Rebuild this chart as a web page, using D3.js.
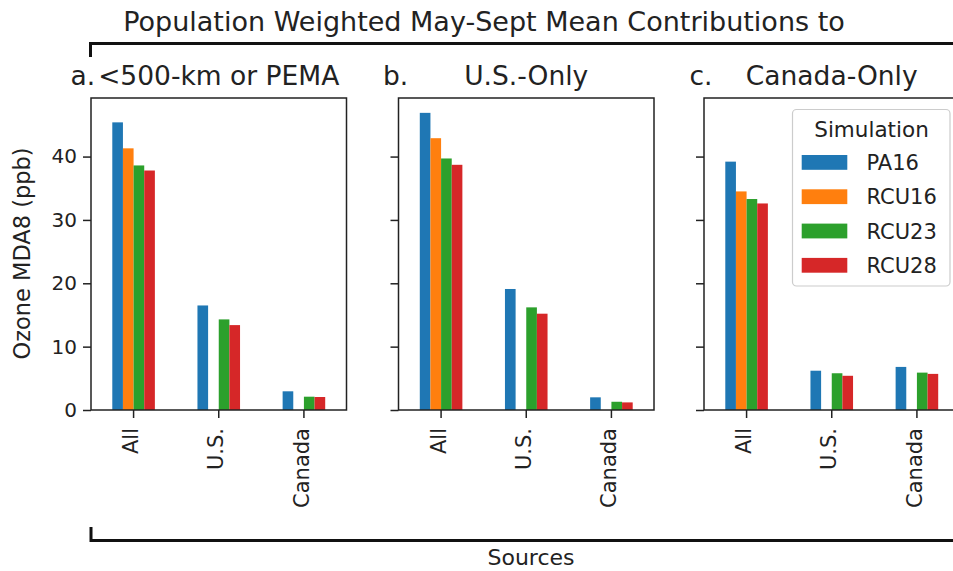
<!DOCTYPE html>
<html><head><meta charset="utf-8">
<script src="https://cdn.jsdelivr.net/npm/d3@7"></script>
<style>body{margin:0;background:#fff}</style>
</head><body><svg id="chart" width="953" height="571"></svg>
<script>
// ---- data ----
const sources = ["All", "U.S.", "Canada"];
const simulations = ["PA16", "RCU16", "RCU23", "RCU28"];
const panelLetters = ["a.", "b.", "c."];
const panelTitles = ["<500-km or PEMA", "U.S.-Only", "Canada-Only"];
const yTicks = [0, 10, 20, 30, 40];
// rows = sources, columns = simulations (null = no bar)
const pemaValues       = [[45.4, 41.3, 38.6, 37.8], [16.5, null, 14.3, 13.4], [2.95, null, 2.1, 2.05]];
const usOnlyValues     = [[46.9, 42.9, 39.7, 38.7], [19.1, null, 16.2, 15.2], [2.0, null, 1.3, 1.2]];
const canadaOnlyValues = [[39.2, 34.5, 33.3, 32.6], [6.2, null, 5.8, 5.4], [6.8, null, 5.9, 5.7]];
const colors = ["#1f77b4", "#ff7f0e", "#2ca02c", "#d62728"];

const panels = [pemaValues, usOnlyValues, canadaOnlyValues];

// ---- layout ----
const svg = d3.select("#chart");
const font = "DejaVu Sans";
const txt = "#222";
const plotTop = 98, plotBottom = 410;
const panelLeft = [91, 398.5, 704];
const panelW = 255.5;

const allVals = panels.flat(2).filter(v => v != null);
const y = d3.scaleLinear().domain([0, d3.max(allVals) * 1.05]).range([plotBottom, plotTop]);

// title
svg.append("text").attr("x", 484).attr("y", 30.5).attr("text-anchor", "middle")
  .attr("font-family", font).attr("font-size", 27).attr("fill", txt)
  .text("Population Weighted May-Sept Mean Contributions to");

// top bracket
svg.append("path").attr("d", "M90.5,57 V43.5 H960").attr("fill", "none")
  .attr("stroke", "#111").attr("stroke-width", 3);
// bottom bracket
svg.append("path").attr("d", "M91,527 V540.5 H960").attr("fill", "none")
  .attr("stroke", "#111").attr("stroke-width", 3);

svg.append("text").attr("x", 531).attr("y", 565).attr("text-anchor", "middle")
  .attr("font-family", font).attr("font-size", 22).attr("fill", txt).text("Sources");

// y label
svg.append("text").attr("transform", "translate(29.5,253.5) rotate(-90)")
  .attr("text-anchor", "middle").attr("font-family", font).attr("font-size", 22.5)
  .attr("fill", txt).text("Ozone MDA8 (ppb)");

const letterX = [70.5, 383, 689.5];

panels.forEach((vals, pi) => {
  const x0 = panelLeft[pi];
  const g = svg.append("g");
  const x = d3.scaleBand().domain(sources).range([x0, x0 + panelW]).padding(0);
  const bw = x.bandwidth();
  const xs = d3.scaleBand().domain(simulations).range([-bw * 0.25, bw * 0.25]).padding(0);

  // bars
  sources.forEach((s, si) => {
    simulations.forEach((sim, k) => {
      const v = vals[si][k];
      if (v == null) return;
      g.append("rect")
        .attr("x", x(s) + bw / 2 + xs(sim))
        .attr("y", y(v))
        .attr("width", xs.bandwidth())
        .attr("height", y(0) - y(v))
        .attr("fill", colors[k]);
    });
  });

  // y axis
  const yAxis = d3.axisLeft(y).tickValues(yTicks).tickSize(8).tickPadding(6)
    .tickFormat(pi === 0 ? d3.format("d") : () => "");
  const ya = g.append("g").attr("transform", `translate(${x0},0)`).call(yAxis);
  ya.select(".domain").remove();
  ya.selectAll("line").attr("stroke", "#222").attr("stroke-width", 1.5);
  ya.selectAll("text").attr("font-family", font).attr("font-size", 20).attr("fill", txt);

  // x axis
  const xAxis = d3.axisBottom(x).tickSize(8).tickPadding(0);
  const xa = g.append("g").attr("transform", `translate(0,${plotBottom})`).call(xAxis);
  xa.select(".domain").remove();
  xa.selectAll("line").attr("stroke", "#222").attr("stroke-width", 1.5);
  xa.selectAll("text")
    .attr("font-family", font).attr("font-size", 21).attr("fill", txt)
    .attr("text-anchor", "end")
    .attr("transform", "translate(0,18) rotate(-90)")
    .attr("x", 0).attr("y", 0).attr("dy", "0.22em");

  // frame
  g.append("rect").attr("x", x0).attr("y", plotTop).attr("width", panelW).attr("height", plotBottom - plotTop)
    .attr("fill", "none").attr("stroke", "#222").attr("stroke-width", 1.5);

  // titles
  svg.append("text").attr("x", letterX[pi]).attr("y", 84.5)
    .attr("font-family", font).attr("font-size", 26.5).attr("fill", txt).text(panelLetters[pi]);
  svg.append("text").attr("x", x0 + panelW / 2).attr("y", 84.5).attr("text-anchor", "middle")
    .attr("font-family", font).attr("font-size", 26.5).attr("fill", txt).text(panelTitles[pi]);
});

// legend
const lg = svg.append("g");
lg.append("rect").attr("x", 792.5).attr("y", 109.5).attr("width", 157.5).attr("height", 176.5)
  .attr("rx", 4).attr("fill", "#fff").attr("fill-opacity", 0.85)
  .attr("stroke", "#ccc").attr("stroke-width", 1.2);
lg.append("text").attr("x", 871.5).attr("y", 136.5).attr("text-anchor", "middle")
  .attr("font-family", font).attr("font-size", 21.5).attr("fill", txt).text("Simulation");
simulations.forEach((sim, k) => {
  const yy = 155 + k * 34.3;
  lg.append("rect").attr("x", 801.7).attr("y", yy).attr("width", 45.6).attr("height", 14.8)
    .attr("fill", colors[k]);
  lg.append("text").attr("x", 866.5).attr("y", yy + 15).attr("font-family", font)
    .attr("font-size", 21).attr("fill", txt).text(sim);
});
</script>
</body></html>
